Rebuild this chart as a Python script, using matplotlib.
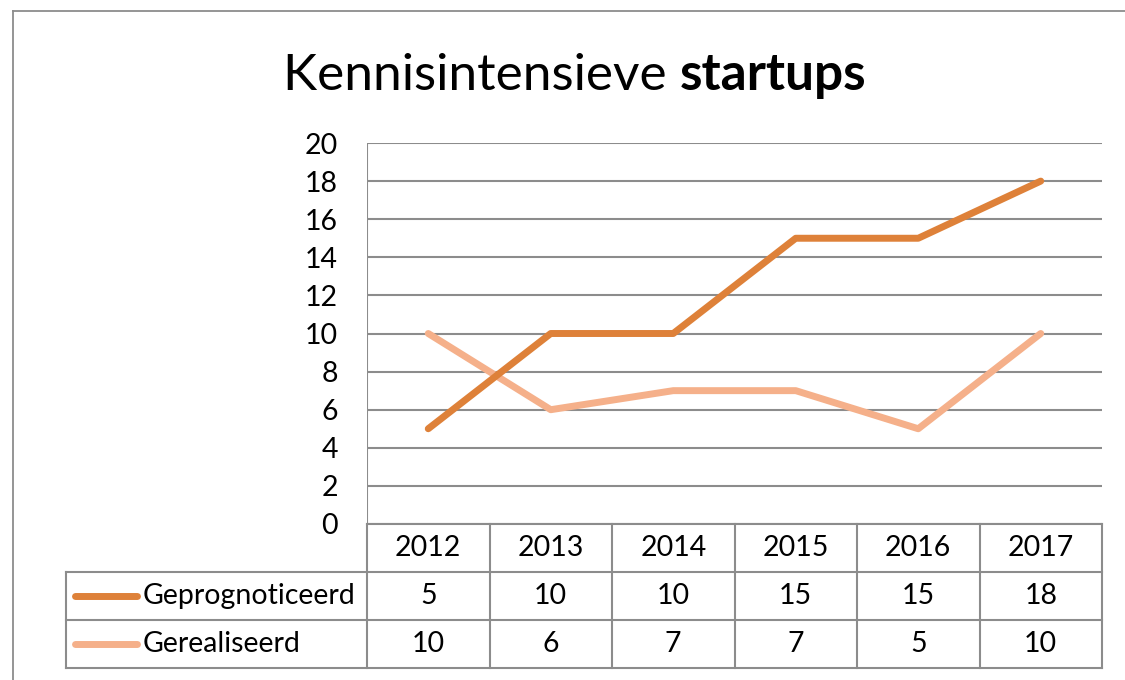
import matplotlib
matplotlib.use("Agg")
import matplotlib.pyplot as plt
from matplotlib.lines import Line2D

plt.rcParams['font.family'] = ['Lato', 'DejaVu Sans']

years = ['2012', '2013', '2014', '2015', '2016', '2017']
geprognoticeerd = [5, 10, 10, 15, 15, 18]
gerealiseerd = [10, 6, 7, 7, 5, 10]
series_names = ['Geprognoticeerd', 'Gerealiseerd']
series_colors = ['#DE8139', '#F5B08A']
yticks = [0, 2, 4, 6, 8, 10, 12, 14, 16, 18, 20]

W, H = 1125, 680
GRID = '#8C8C8C'
FS = 20.5

fig = plt.figure(figsize=(W / 100, H / 100), dpi=100, facecolor='white')

def px_rect(x0, y0, x1, y1):
    # pixel box (top-left origin) -> figure fraction rect
    return [x0 / W, 1 - y1 / H, (x1 - x0) / W, (y1 - y0) / H]

# outer chart border (right/bottom fall outside the picture)
fig.add_artist(Line2D([13 / W, 13 / W], [0, 1 - 11 / H], color=GRID, lw=1.3, transform=fig.transFigure))
fig.add_artist(Line2D([13 / W, 1], [1 - 11 / H, 1 - 11 / H], color=GRID, lw=1.3, transform=fig.transFigure))

# plot area
PL, PT, PR, PB = 367, 143, 1102, 524
ax = fig.add_axes(px_rect(PL, PT, PR, PB))
x = list(range(len(years)))
ax.set_xlim(-0.5, len(years) - 0.5)
ax.set_ylim(0, 20)
for s in ax.spines.values():
    s.set_visible(False)
ax.set_yticks(yticks)
ax.set_yticklabels([str(v) for v in yticks], fontsize=FS)
ax.tick_params(axis='y', length=0, pad=21)
ax.set_xticks([])
for v in yticks:
    ax.axhline(v, color=GRID, lw=1.5, zorder=1)
ax.axvline(-0.5, color=GRID, lw=1.5, zorder=1)
ax.patch.set_alpha(0)

ax.plot(x, gerealiseerd, color=series_colors[1], lw=5, solid_capstyle='round', zorder=3)
ax.plot(x, geprognoticeerd, color=series_colors[0], lw=5, solid_capstyle='round', zorder=4)

# title with bold second word
r = fig.canvas.get_renderer()
t1 = fig.text(0, 0, 'Kennisintensieve ', fontsize=37)
t2 = fig.text(0, 0, 'startups', fontsize=37, fontweight='bold')
w1 = t1.get_window_extent(r).width
w2 = t2.get_window_extent(r).width
cx = 574.5
start = cx - (w1 + w2) / 2
base_y = 1 - 90 / H
t1.set_position((start / W, base_y))
t1.set_va('baseline')
t2.set_position(((start + w1) / W, base_y))
t2.set_va('baseline')

# data table
TL = 66
cw = (PR - PL) / len(years)
tax = fig.add_axes(px_rect(TL, PB, PR, 668))
xmin = -0.5 - (PL - TL) / cw
tax.set_xlim(xmin, len(years) - 0.5)
tax.set_ylim(3, 0)
tax.axis('off')

def tx(px):
    return xmin + (px - TL) / cw

# horizontal lines
tax.plot([-0.5, len(years) - 0.5], [0, 0], color=GRID, lw=1.5, clip_on=False)
for yy in [1, 2, 3]:
    tax.plot([xmin, len(years) - 0.5], [yy, yy], color=GRID, lw=1.5, clip_on=False)
# vertical lines
tax.plot([xmin, xmin], [1, 3], color=GRID, lw=1.5, clip_on=False)
for k in range(len(years) + 1):
    tax.plot([k - 0.5, k - 0.5], [0, 3], color=GRID, lw=1.5, clip_on=False)

for i, yr in enumerate(years):
    tax.text(i, 0.5, yr, ha='center', va='center', fontsize=FS)

for row, (name, vals, col) in enumerate(zip(series_names, [geprognoticeerd, gerealiseerd], series_colors), start=1):
    yc = row + 0.5
    tax.plot([tx(75), tx(137)], [yc, yc], color=col, lw=5, solid_capstyle='round')
    tax.text(tx(143), yc, name, ha='left', va='center', fontsize=FS)
    for i, v in enumerate(vals):
        tax.text(i, yc, str(v), ha='center', va='center', fontsize=FS)

fig.savefig('out.png', dpi=100, facecolor='white')
